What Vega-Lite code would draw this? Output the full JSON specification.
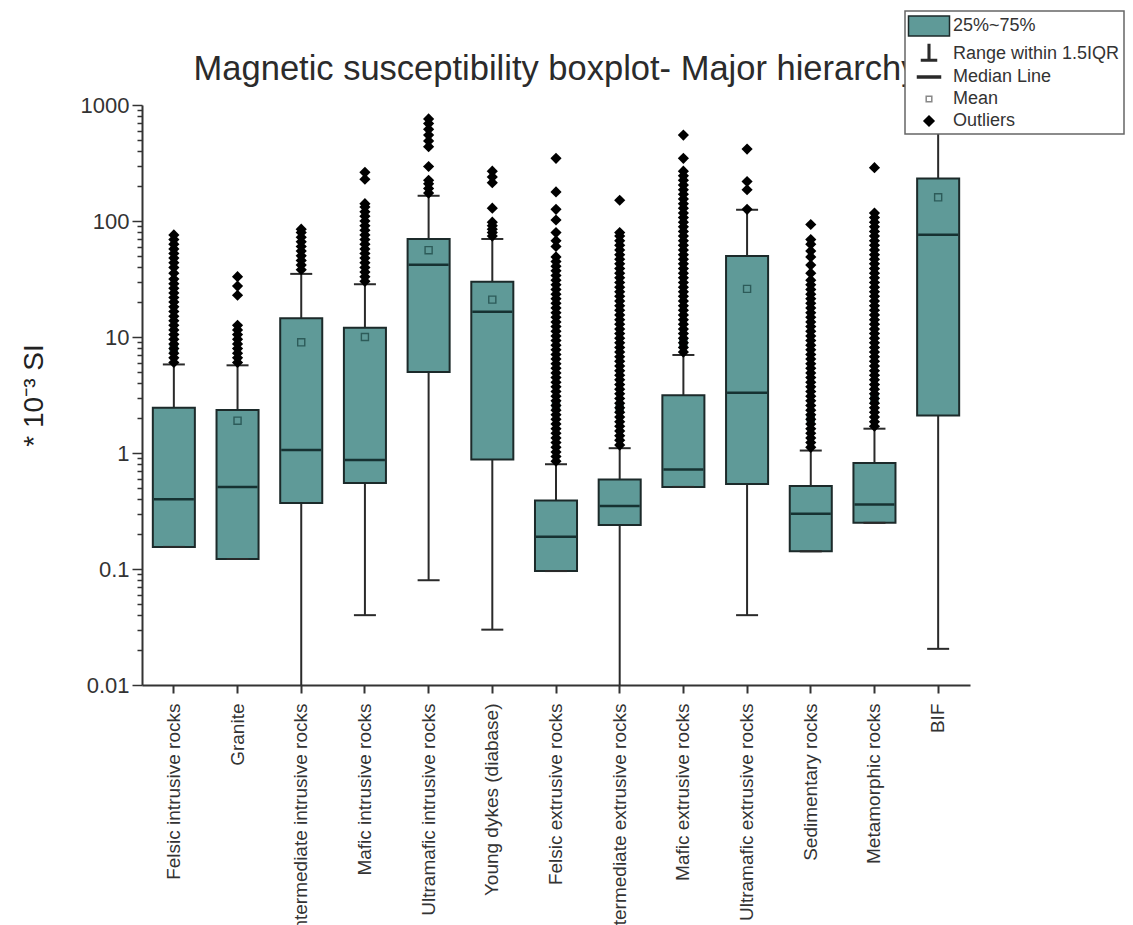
{
  "$schema": "https://vega.github.io/schema/vega-lite/v6.json",
  "autosize": {"type": "none"},
  "padding": {"left": 142, "top": 105, "right": 163, "bottom": 240},
  "width": 828,
  "height": 580,
  "background": "white",
  "title": {"text": "Magnetic susceptibility boxplot- Major hierarchy", "font": "Liberation Sans", "fontSize": 34.5, "fontWeight": "normal", "color": "#2b2b2b", "anchor": "middle", "frame": "group", "offset": -77, "zindex": 0},
  "config": {
    "view": {"stroke": null},
    "legend": {
      "orient": "none", "legendX": 763, "legendY": -94,
      "padding": 4, "rowPadding": 2,
      "symbolSize": 400, "symbolStrokeWidth": 1.5, "symbolOffset": 9,
      "labelOffset": 13, "labelLimit": 300, "labelFont": "Liberation Sans", "labelFontSize": 18, "labelColor": "#333",
      "strokeColor": "#666", "fillColor": "white", "strokeWidth": 1.5
    }
  },
  "datasets": {
    "stats": [
      {"c": "Felsic intrusive rocks", "lo": 0.155, "q1": 0.155, "med": 0.40, "q3": 2.45, "hi": 5.8, "mean": 8.0},
      {"c": "Granite", "lo": 0.122, "q1": 0.122, "med": 0.51, "q3": 2.35, "hi": 5.7, "mean": 1.9},
      {"c": "Intermediate intrusive rocks", "lo": 0.005, "q1": 0.37, "med": 1.06, "q3": 14.5, "hi": 35, "mean": 9.0},
      {"c": "Mafic intrusive rocks", "lo": 0.04, "q1": 0.55, "med": 0.87, "q3": 12, "hi": 28.5, "mean": 10},
      {"c": "Ultramafic intrusive rocks", "lo": 0.08, "q1": 5.0, "med": 42, "q3": 70, "hi": 165, "mean": 56},
      {"c": "Young dykes (diabase)", "lo": 0.03, "q1": 0.88, "med": 16.5, "q3": 30, "hi": 70, "mean": 21},
      {"c": "Felsic extrusive rocks", "lo": 0.096, "q1": 0.096, "med": 0.19, "q3": 0.39, "hi": 0.80, "mean": 2.6},
      {"c": "Intermediate extrusive rocks", "lo": 0.005, "q1": 0.24, "med": 0.35, "q3": 0.59, "hi": 1.10, "mean": 2.4},
      {"c": "Mafic extrusive rocks", "lo": 0.51, "q1": 0.51, "med": 0.72, "q3": 3.15, "hi": 7.0, "mean": 9.0},
      {"c": "Ultramafic extrusive rocks", "lo": 0.04, "q1": 0.54, "med": 3.3, "q3": 50, "hi": 125, "mean": 26},
      {"c": "Sedimentary rocks", "lo": 0.142, "q1": 0.142, "med": 0.30, "q3": 0.52, "hi": 1.05, "mean": 2.0},
      {"c": "Metamorphic rocks", "lo": 0.25, "q1": 0.25, "med": 0.36, "q3": 0.82, "hi": 1.62, "mean": 3.0},
      {"c": "BIF", "lo": 0.0205, "q1": 2.1, "med": 76, "q3": 232, "hi": 590, "mean": 160}
    ],
    "outliers": [
      {"c": "Felsic intrusive rocks", "v": 6.03}, {"c": "Felsic intrusive rocks", "v": 6.61}, {"c": "Felsic intrusive rocks", "v": 7.24}, {"c": "Felsic intrusive rocks", "v": 7.94}, {"c": "Felsic intrusive rocks", "v": 8.71}, {"c": "Felsic intrusive rocks", "v": 9.55}, {"c": "Felsic intrusive rocks", "v": 10.5}, {"c": "Felsic intrusive rocks", "v": 11.5}, {"c": "Felsic intrusive rocks", "v": 12.6}, {"c": "Felsic intrusive rocks", "v": 13.8}, {"c": "Felsic intrusive rocks", "v": 15.1}, {"c": "Felsic intrusive rocks", "v": 16.6}, {"c": "Felsic intrusive rocks", "v": 18.2}, {"c": "Felsic intrusive rocks", "v": 20.0}, {"c": "Felsic intrusive rocks", "v": 21.9}, {"c": "Felsic intrusive rocks", "v": 24.0}, {"c": "Felsic intrusive rocks", "v": 26.3}, {"c": "Felsic intrusive rocks", "v": 28.8}, {"c": "Felsic intrusive rocks", "v": 31.6}, {"c": "Felsic intrusive rocks", "v": 35.5}, {"c": "Felsic intrusive rocks", "v": 39.8}, {"c": "Felsic intrusive rocks", "v": 43.7}, {"c": "Felsic intrusive rocks", "v": 47.9}, {"c": "Felsic intrusive rocks", "v": 52.5}, {"c": "Felsic intrusive rocks", "v": 57.5}, {"c": "Felsic intrusive rocks", "v": 63.1}, {"c": "Felsic intrusive rocks", "v": 69.2}, {"c": "Felsic intrusive rocks", "v": 75.9},
      {"c": "Granite", "v": 6.03}, {"c": "Granite", "v": 6.61}, {"c": "Granite", "v": 7.24}, {"c": "Granite", "v": 7.94}, {"c": "Granite", "v": 8.71}, {"c": "Granite", "v": 9.55}, {"c": "Granite", "v": 10.5}, {"c": "Granite", "v": 11.5}, {"c": "Granite", "v": 12.6}, {"c": "Granite", "v": 22.9}, {"c": "Granite", "v": 27.5}, {"c": "Granite", "v": 33.1},
      {"c": "Intermediate intrusive rocks", "v": 38.0}, {"c": "Intermediate intrusive rocks", "v": 41.7}, {"c": "Intermediate intrusive rocks", "v": 45.7}, {"c": "Intermediate intrusive rocks", "v": 50.1}, {"c": "Intermediate intrusive rocks", "v": 55.0}, {"c": "Intermediate intrusive rocks", "v": 60.3}, {"c": "Intermediate intrusive rocks", "v": 66.1}, {"c": "Intermediate intrusive rocks", "v": 72.4}, {"c": "Intermediate intrusive rocks", "v": 79.4}, {"c": "Intermediate intrusive rocks", "v": 85.1},
      {"c": "Mafic intrusive rocks", "v": 30.2}, {"c": "Mafic intrusive rocks", "v": 33.1}, {"c": "Mafic intrusive rocks", "v": 36.3}, {"c": "Mafic intrusive rocks", "v": 39.8}, {"c": "Mafic intrusive rocks", "v": 43.7}, {"c": "Mafic intrusive rocks", "v": 47.9}, {"c": "Mafic intrusive rocks", "v": 52.5}, {"c": "Mafic intrusive rocks", "v": 57.5}, {"c": "Mafic intrusive rocks", "v": 63.1}, {"c": "Mafic intrusive rocks", "v": 69.2}, {"c": "Mafic intrusive rocks", "v": 75.9}, {"c": "Mafic intrusive rocks", "v": 83.2}, {"c": "Mafic intrusive rocks", "v": 91.2}, {"c": "Mafic intrusive rocks", "v": 100}, {"c": "Mafic intrusive rocks", "v": 110}, {"c": "Mafic intrusive rocks", "v": 120}, {"c": "Mafic intrusive rocks", "v": 132}, {"c": "Mafic intrusive rocks", "v": 141}, {"c": "Mafic intrusive rocks", "v": 229}, {"c": "Mafic intrusive rocks", "v": 263},
      {"c": "Ultramafic intrusive rocks", "v": 174}, {"c": "Ultramafic intrusive rocks", "v": 191}, {"c": "Ultramafic intrusive rocks", "v": 209}, {"c": "Ultramafic intrusive rocks", "v": 224}, {"c": "Ultramafic intrusive rocks", "v": 295}, {"c": "Ultramafic intrusive rocks", "v": 437}, {"c": "Ultramafic intrusive rocks", "v": 490}, {"c": "Ultramafic intrusive rocks", "v": 550}, {"c": "Ultramafic intrusive rocks", "v": 617}, {"c": "Ultramafic intrusive rocks", "v": 692}, {"c": "Ultramafic intrusive rocks", "v": 759},
      {"c": "Young dykes (diabase)", "v": 74.1}, {"c": "Young dykes (diabase)", "v": 79.4}, {"c": "Young dykes (diabase)", "v": 85.1}, {"c": "Young dykes (diabase)", "v": 91.2}, {"c": "Young dykes (diabase)", "v": 97.7}, {"c": "Young dykes (diabase)", "v": 129}, {"c": "Young dykes (diabase)", "v": 214}, {"c": "Young dykes (diabase)", "v": 240}, {"c": "Young dykes (diabase)", "v": 269},
      {"c": "Felsic extrusive rocks", "v": 0.851}, {"c": "Felsic extrusive rocks", "v": 0.933}, {"c": "Felsic extrusive rocks", "v": 1.02}, {"c": "Felsic extrusive rocks", "v": 1.12}, {"c": "Felsic extrusive rocks", "v": 1.23}, {"c": "Felsic extrusive rocks", "v": 1.35}, {"c": "Felsic extrusive rocks", "v": 1.48}, {"c": "Felsic extrusive rocks", "v": 1.62}, {"c": "Felsic extrusive rocks", "v": 1.78}, {"c": "Felsic extrusive rocks", "v": 1.95}, {"c": "Felsic extrusive rocks", "v": 2.14}, {"c": "Felsic extrusive rocks", "v": 2.34}, {"c": "Felsic extrusive rocks", "v": 2.57}, {"c": "Felsic extrusive rocks", "v": 2.82}, {"c": "Felsic extrusive rocks", "v": 3.09}, {"c": "Felsic extrusive rocks", "v": 3.39}, {"c": "Felsic extrusive rocks", "v": 3.72}, {"c": "Felsic extrusive rocks", "v": 4.07}, {"c": "Felsic extrusive rocks", "v": 4.47}, {"c": "Felsic extrusive rocks", "v": 4.90}, {"c": "Felsic extrusive rocks", "v": 5.37}, {"c": "Felsic extrusive rocks", "v": 5.89}, {"c": "Felsic extrusive rocks", "v": 6.46}, {"c": "Felsic extrusive rocks", "v": 7.08}, {"c": "Felsic extrusive rocks", "v": 7.76}, {"c": "Felsic extrusive rocks", "v": 8.51}, {"c": "Felsic extrusive rocks", "v": 9.33}, {"c": "Felsic extrusive rocks", "v": 10.2}, {"c": "Felsic extrusive rocks", "v": 11.2}, {"c": "Felsic extrusive rocks", "v": 12.3}, {"c": "Felsic extrusive rocks", "v": 13.5}, {"c": "Felsic extrusive rocks", "v": 14.8}, {"c": "Felsic extrusive rocks", "v": 16.2}, {"c": "Felsic extrusive rocks", "v": 17.8}, {"c": "Felsic extrusive rocks", "v": 19.5}, {"c": "Felsic extrusive rocks", "v": 21.4}, {"c": "Felsic extrusive rocks", "v": 23.4}, {"c": "Felsic extrusive rocks", "v": 25.7}, {"c": "Felsic extrusive rocks", "v": 28.2}, {"c": "Felsic extrusive rocks", "v": 30.9}, {"c": "Felsic extrusive rocks", "v": 33.9}, {"c": "Felsic extrusive rocks", "v": 37.2}, {"c": "Felsic extrusive rocks", "v": 40.7}, {"c": "Felsic extrusive rocks", "v": 44.7}, {"c": "Felsic extrusive rocks", "v": 49.0}, {"c": "Felsic extrusive rocks", "v": 60.3}, {"c": "Felsic extrusive rocks", "v": 67.6}, {"c": "Felsic extrusive rocks", "v": 79.4}, {"c": "Felsic extrusive rocks", "v": 102}, {"c": "Felsic extrusive rocks", "v": 126}, {"c": "Felsic extrusive rocks", "v": 178}, {"c": "Felsic extrusive rocks", "v": 347},
      {"c": "Intermediate extrusive rocks", "v": 1.17}, {"c": "Intermediate extrusive rocks", "v": 1.29}, {"c": "Intermediate extrusive rocks", "v": 1.41}, {"c": "Intermediate extrusive rocks", "v": 1.55}, {"c": "Intermediate extrusive rocks", "v": 1.70}, {"c": "Intermediate extrusive rocks", "v": 1.86}, {"c": "Intermediate extrusive rocks", "v": 2.04}, {"c": "Intermediate extrusive rocks", "v": 2.24}, {"c": "Intermediate extrusive rocks", "v": 2.45}, {"c": "Intermediate extrusive rocks", "v": 2.69}, {"c": "Intermediate extrusive rocks", "v": 2.95}, {"c": "Intermediate extrusive rocks", "v": 3.24}, {"c": "Intermediate extrusive rocks", "v": 3.55}, {"c": "Intermediate extrusive rocks", "v": 3.89}, {"c": "Intermediate extrusive rocks", "v": 4.27}, {"c": "Intermediate extrusive rocks", "v": 4.68}, {"c": "Intermediate extrusive rocks", "v": 5.13}, {"c": "Intermediate extrusive rocks", "v": 5.62}, {"c": "Intermediate extrusive rocks", "v": 6.17}, {"c": "Intermediate extrusive rocks", "v": 6.76}, {"c": "Intermediate extrusive rocks", "v": 7.41}, {"c": "Intermediate extrusive rocks", "v": 8.13}, {"c": "Intermediate extrusive rocks", "v": 8.91}, {"c": "Intermediate extrusive rocks", "v": 9.77}, {"c": "Intermediate extrusive rocks", "v": 10.7}, {"c": "Intermediate extrusive rocks", "v": 11.7}, {"c": "Intermediate extrusive rocks", "v": 12.9}, {"c": "Intermediate extrusive rocks", "v": 14.1}, {"c": "Intermediate extrusive rocks", "v": 15.5}, {"c": "Intermediate extrusive rocks", "v": 17.0}, {"c": "Intermediate extrusive rocks", "v": 18.6}, {"c": "Intermediate extrusive rocks", "v": 20.4}, {"c": "Intermediate extrusive rocks", "v": 22.4}, {"c": "Intermediate extrusive rocks", "v": 24.5}, {"c": "Intermediate extrusive rocks", "v": 26.9}, {"c": "Intermediate extrusive rocks", "v": 29.5}, {"c": "Intermediate extrusive rocks", "v": 32.4}, {"c": "Intermediate extrusive rocks", "v": 35.5}, {"c": "Intermediate extrusive rocks", "v": 38.9}, {"c": "Intermediate extrusive rocks", "v": 42.7}, {"c": "Intermediate extrusive rocks", "v": 46.8}, {"c": "Intermediate extrusive rocks", "v": 51.3}, {"c": "Intermediate extrusive rocks", "v": 56.2}, {"c": "Intermediate extrusive rocks", "v": 61.7}, {"c": "Intermediate extrusive rocks", "v": 67.6}, {"c": "Intermediate extrusive rocks", "v": 74.1}, {"c": "Intermediate extrusive rocks", "v": 79.4}, {"c": "Intermediate extrusive rocks", "v": 151},
      {"c": "Mafic extrusive rocks", "v": 7.41}, {"c": "Mafic extrusive rocks", "v": 8.13}, {"c": "Mafic extrusive rocks", "v": 8.91}, {"c": "Mafic extrusive rocks", "v": 9.77}, {"c": "Mafic extrusive rocks", "v": 10.7}, {"c": "Mafic extrusive rocks", "v": 11.7}, {"c": "Mafic extrusive rocks", "v": 12.9}, {"c": "Mafic extrusive rocks", "v": 14.1}, {"c": "Mafic extrusive rocks", "v": 15.5}, {"c": "Mafic extrusive rocks", "v": 17.0}, {"c": "Mafic extrusive rocks", "v": 18.6}, {"c": "Mafic extrusive rocks", "v": 20.4}, {"c": "Mafic extrusive rocks", "v": 22.4}, {"c": "Mafic extrusive rocks", "v": 24.5}, {"c": "Mafic extrusive rocks", "v": 26.9}, {"c": "Mafic extrusive rocks", "v": 29.5}, {"c": "Mafic extrusive rocks", "v": 32.4}, {"c": "Mafic extrusive rocks", "v": 35.5}, {"c": "Mafic extrusive rocks", "v": 38.9}, {"c": "Mafic extrusive rocks", "v": 42.7}, {"c": "Mafic extrusive rocks", "v": 46.8}, {"c": "Mafic extrusive rocks", "v": 51.3}, {"c": "Mafic extrusive rocks", "v": 56.2}, {"c": "Mafic extrusive rocks", "v": 61.7}, {"c": "Mafic extrusive rocks", "v": 67.6}, {"c": "Mafic extrusive rocks", "v": 74.1}, {"c": "Mafic extrusive rocks", "v": 81.3}, {"c": "Mafic extrusive rocks", "v": 89.1}, {"c": "Mafic extrusive rocks", "v": 97.7}, {"c": "Mafic extrusive rocks", "v": 107}, {"c": "Mafic extrusive rocks", "v": 117}, {"c": "Mafic extrusive rocks", "v": 129}, {"c": "Mafic extrusive rocks", "v": 141}, {"c": "Mafic extrusive rocks", "v": 155}, {"c": "Mafic extrusive rocks", "v": 170}, {"c": "Mafic extrusive rocks", "v": 186}, {"c": "Mafic extrusive rocks", "v": 204}, {"c": "Mafic extrusive rocks", "v": 224}, {"c": "Mafic extrusive rocks", "v": 245}, {"c": "Mafic extrusive rocks", "v": 269}, {"c": "Mafic extrusive rocks", "v": 347}, {"c": "Mafic extrusive rocks", "v": 550},
      {"c": "Ultramafic extrusive rocks", "v": 126}, {"c": "Ultramafic extrusive rocks", "v": 186}, {"c": "Ultramafic extrusive rocks", "v": 219}, {"c": "Ultramafic extrusive rocks", "v": 417},
      {"c": "Sedimentary rocks", "v": 1.12}, {"c": "Sedimentary rocks", "v": 1.23}, {"c": "Sedimentary rocks", "v": 1.35}, {"c": "Sedimentary rocks", "v": 1.48}, {"c": "Sedimentary rocks", "v": 1.62}, {"c": "Sedimentary rocks", "v": 1.78}, {"c": "Sedimentary rocks", "v": 1.95}, {"c": "Sedimentary rocks", "v": 2.14}, {"c": "Sedimentary rocks", "v": 2.34}, {"c": "Sedimentary rocks", "v": 2.57}, {"c": "Sedimentary rocks", "v": 2.82}, {"c": "Sedimentary rocks", "v": 3.09}, {"c": "Sedimentary rocks", "v": 3.39}, {"c": "Sedimentary rocks", "v": 3.72}, {"c": "Sedimentary rocks", "v": 4.07}, {"c": "Sedimentary rocks", "v": 4.47}, {"c": "Sedimentary rocks", "v": 4.90}, {"c": "Sedimentary rocks", "v": 5.37}, {"c": "Sedimentary rocks", "v": 5.89}, {"c": "Sedimentary rocks", "v": 6.46}, {"c": "Sedimentary rocks", "v": 7.08}, {"c": "Sedimentary rocks", "v": 7.76}, {"c": "Sedimentary rocks", "v": 8.51}, {"c": "Sedimentary rocks", "v": 9.33}, {"c": "Sedimentary rocks", "v": 10.2}, {"c": "Sedimentary rocks", "v": 11.2}, {"c": "Sedimentary rocks", "v": 12.3}, {"c": "Sedimentary rocks", "v": 13.5}, {"c": "Sedimentary rocks", "v": 14.8}, {"c": "Sedimentary rocks", "v": 16.2}, {"c": "Sedimentary rocks", "v": 17.8}, {"c": "Sedimentary rocks", "v": 19.5}, {"c": "Sedimentary rocks", "v": 21.4}, {"c": "Sedimentary rocks", "v": 23.4}, {"c": "Sedimentary rocks", "v": 25.7}, {"c": "Sedimentary rocks", "v": 28.2}, {"c": "Sedimentary rocks", "v": 30.9}, {"c": "Sedimentary rocks", "v": 35.5}, {"c": "Sedimentary rocks", "v": 41.7}, {"c": "Sedimentary rocks", "v": 49.0}, {"c": "Sedimentary rocks", "v": 55.0}, {"c": "Sedimentary rocks", "v": 63.1}, {"c": "Sedimentary rocks", "v": 69.2}, {"c": "Sedimentary rocks", "v": 93.3},
      {"c": "Metamorphic rocks", "v": 1.70}, {"c": "Metamorphic rocks", "v": 1.86}, {"c": "Metamorphic rocks", "v": 2.04}, {"c": "Metamorphic rocks", "v": 2.24}, {"c": "Metamorphic rocks", "v": 2.45}, {"c": "Metamorphic rocks", "v": 2.69}, {"c": "Metamorphic rocks", "v": 2.95}, {"c": "Metamorphic rocks", "v": 3.24}, {"c": "Metamorphic rocks", "v": 3.55}, {"c": "Metamorphic rocks", "v": 3.89}, {"c": "Metamorphic rocks", "v": 4.27}, {"c": "Metamorphic rocks", "v": 4.68}, {"c": "Metamorphic rocks", "v": 5.13}, {"c": "Metamorphic rocks", "v": 5.62}, {"c": "Metamorphic rocks", "v": 6.17}, {"c": "Metamorphic rocks", "v": 6.76}, {"c": "Metamorphic rocks", "v": 7.41}, {"c": "Metamorphic rocks", "v": 8.13}, {"c": "Metamorphic rocks", "v": 8.91}, {"c": "Metamorphic rocks", "v": 9.77}, {"c": "Metamorphic rocks", "v": 10.7}, {"c": "Metamorphic rocks", "v": 11.7}, {"c": "Metamorphic rocks", "v": 12.9}, {"c": "Metamorphic rocks", "v": 14.1}, {"c": "Metamorphic rocks", "v": 15.5}, {"c": "Metamorphic rocks", "v": 17.0}, {"c": "Metamorphic rocks", "v": 18.6}, {"c": "Metamorphic rocks", "v": 20.4}, {"c": "Metamorphic rocks", "v": 22.4}, {"c": "Metamorphic rocks", "v": 24.5}, {"c": "Metamorphic rocks", "v": 26.9}, {"c": "Metamorphic rocks", "v": 29.5}, {"c": "Metamorphic rocks", "v": 32.4}, {"c": "Metamorphic rocks", "v": 35.5}, {"c": "Metamorphic rocks", "v": 38.9}, {"c": "Metamorphic rocks", "v": 42.7}, {"c": "Metamorphic rocks", "v": 46.8}, {"c": "Metamorphic rocks", "v": 51.3}, {"c": "Metamorphic rocks", "v": 56.2}, {"c": "Metamorphic rocks", "v": 61.7}, {"c": "Metamorphic rocks", "v": 67.6}, {"c": "Metamorphic rocks", "v": 74.1}, {"c": "Metamorphic rocks", "v": 81.3}, {"c": "Metamorphic rocks", "v": 89.1}, {"c": "Metamorphic rocks", "v": 97.7}, {"c": "Metamorphic rocks", "v": 107}, {"c": "Metamorphic rocks", "v": 117}, {"c": "Metamorphic rocks", "v": 288},
      {"c": "BIF", "v": 617}, {"c": "BIF", "v": 661}
    ],
    "legendItems": []
  },
  "encoding": {
    "x": {
      "field": "c", "type": "nominal",
      "scale": {"domain": ["Felsic intrusive rocks", "Granite", "Intermediate intrusive rocks", "Mafic intrusive rocks", "Ultramafic intrusive rocks", "Young dykes (diabase)", "Felsic extrusive rocks", "Intermediate extrusive rocks", "Mafic extrusive rocks", "Ultramafic extrusive rocks", "Sedimentary rocks", "Metamorphic rocks", "BIF"], "paddingInner": 0.34, "paddingOuter": 0.17},
      "axis": {"title": null, "labelAngle": -90, "labelFont": "Liberation Sans", "labelFontSize": 19, "labelColor": "#333", "labelPadding": 10, "labelLimit": 500, "labelOverlap": false, "tickSize": 8, "tickWidth": 2, "tickColor": "#333", "domainColor": "#333", "domainWidth": 2, "grid": false}
    }
  },
  "layer": [
    {
      "data": {"name": "stats"},
      "mark": {"type": "rule", "color": "#2a2a2a", "strokeWidth": 2, "clip": true},
      "encoding": {
        "y": {
          "field": "lo", "type": "quantitative",
          "scale": {"type": "log", "domain": [0.01, 1000], "nice": false},
          "axis": {
            "title": "* 10⁻³ SI",
            "values": [0.01, 0.02, 0.03, 0.04, 0.05, 0.06, 0.07, 0.08, 0.09, 0.1, 0.2, 0.3, 0.4, 0.5, 0.6, 0.7, 0.8, 0.9, 1, 2, 3, 4, 5, 6, 7, 8, 9, 10, 20, 30, 40, 50, 60, 70, 80, 90, 100, 200, 300, 400, 500, 600, 700, 800, 900, 1000],
            "format": "~g",
            "labelExpr": "indexof(['0.01','0.1','1','10','100','1000'], datum.label) >= 0 ? datum.label : ''",
            "tickSize": {"condition": {"test": "indexof([0.01, 0.1, 1, 10, 100, 1000], datum.value) >= 0", "value": 10}, "value": 5},
            "tickWidth": 1.5, "tickColor": "#333", "domainColor": "#333", "domainWidth": 2, "grid": false,
            "labelFont": "Liberation Sans", "labelFontSize": 22, "labelColor": "#333", "labelPadding": 3, "labelFlush": false, "labelOverlap": false,
            "titleFont": "Liberation Sans", "titleFontSize": 28, "titleFontWeight": "normal", "titleColor": "#222", "titlePadding": 32
          }
        },
        "y2": {"field": "hi"}
      }
    },
    {
      "data": {"name": "stats"},
      "mark": {"type": "bar", "fill": "#5f9a98", "stroke": "#1c2a2a", "strokeWidth": 2, "clip": true},
      "encoding": {"y": {"field": "q1", "type": "quantitative"}, "y2": {"field": "q3"}}
    },
    {
      "data": {"name": "stats"},
      "mark": {"type": "tick", "color": "#163232", "size": 40, "thickness": 2.5, "opacity": 1},
      "encoding": {"y": {"field": "med", "type": "quantitative"}}
    },
    {
      "data": {"name": "stats"},
      "mark": {"type": "tick", "color": "#2a2a2a", "size": 22, "thickness": 2, "opacity": 1, "clip": true},
      "encoding": {"y": {"field": "lo", "type": "quantitative"}}
    },
    {
      "data": {"name": "stats"},
      "mark": {"type": "tick", "color": "#2a2a2a", "size": 22, "thickness": 2, "opacity": 1},
      "encoding": {"y": {"field": "hi", "type": "quantitative"}}
    },
    {
      "data": {"name": "stats"},
      "mark": {"type": "point", "shape": "square", "filled": false, "stroke": "#2d5b59", "strokeWidth": 1.4, "size": 50, "opacity": 1},
      "encoding": {"y": {"field": "mean", "type": "quantitative"}}
    },
    {
      "data": {"name": "outliers"},
      "mark": {"type": "point", "shape": "diamond", "filled": true, "color": "black", "size": 125, "opacity": 1},
      "encoding": {"y": {"field": "v", "type": "quantitative"}}
    },
    {
      "data": {"name": "legendItems"},
      "mark": {"type": "point", "filled": true, "opacity": 1},
      "encoding": {
        "y": {"field": "v", "type": "quantitative"},
        "shape": {"field": "item", "type": "nominal",
          "scale": {"domain": ["25%~75%", "Range within 1.5IQR", "Median Line", "Mean", "Outliers"],
                    "range": ["M-2.05,-1H2.05V1H-2.05Z", "M-0.08,-0.95H0.08V0.55H0.75V0.7H-0.75V0.55H-0.08Z", "M-1.15,-0.1H1.15V0.1H-1.15Z", "M-0.28,-0.28H0.28V0.28H-0.28Z", "M0,-0.5L0.5,0L0,0.5L-0.5,0Z"]},
          "legend": {"title": null, "zindex": 2}},
        "fill": {"field": "item", "type": "nominal",
          "scale": {"domain": ["25%~75%", "Range within 1.5IQR", "Median Line", "Mean", "Outliers"], "range": ["#5f9a98", "#2a2a2a", "#2a2a2a", "#ffffff", "#000000"]},
          "legend": {"title": null, "zindex": 2}},
        "stroke": {"field": "item", "type": "nominal",
          "scale": {"domain": ["25%~75%", "Range within 1.5IQR", "Median Line", "Mean", "Outliers"], "range": ["#1c2a2a", "#2a2a2a", "#2a2a2a", "#888888", "#000000"]},
          "legend": {"title": null, "zindex": 2}}
      }
    }
  ]
}
